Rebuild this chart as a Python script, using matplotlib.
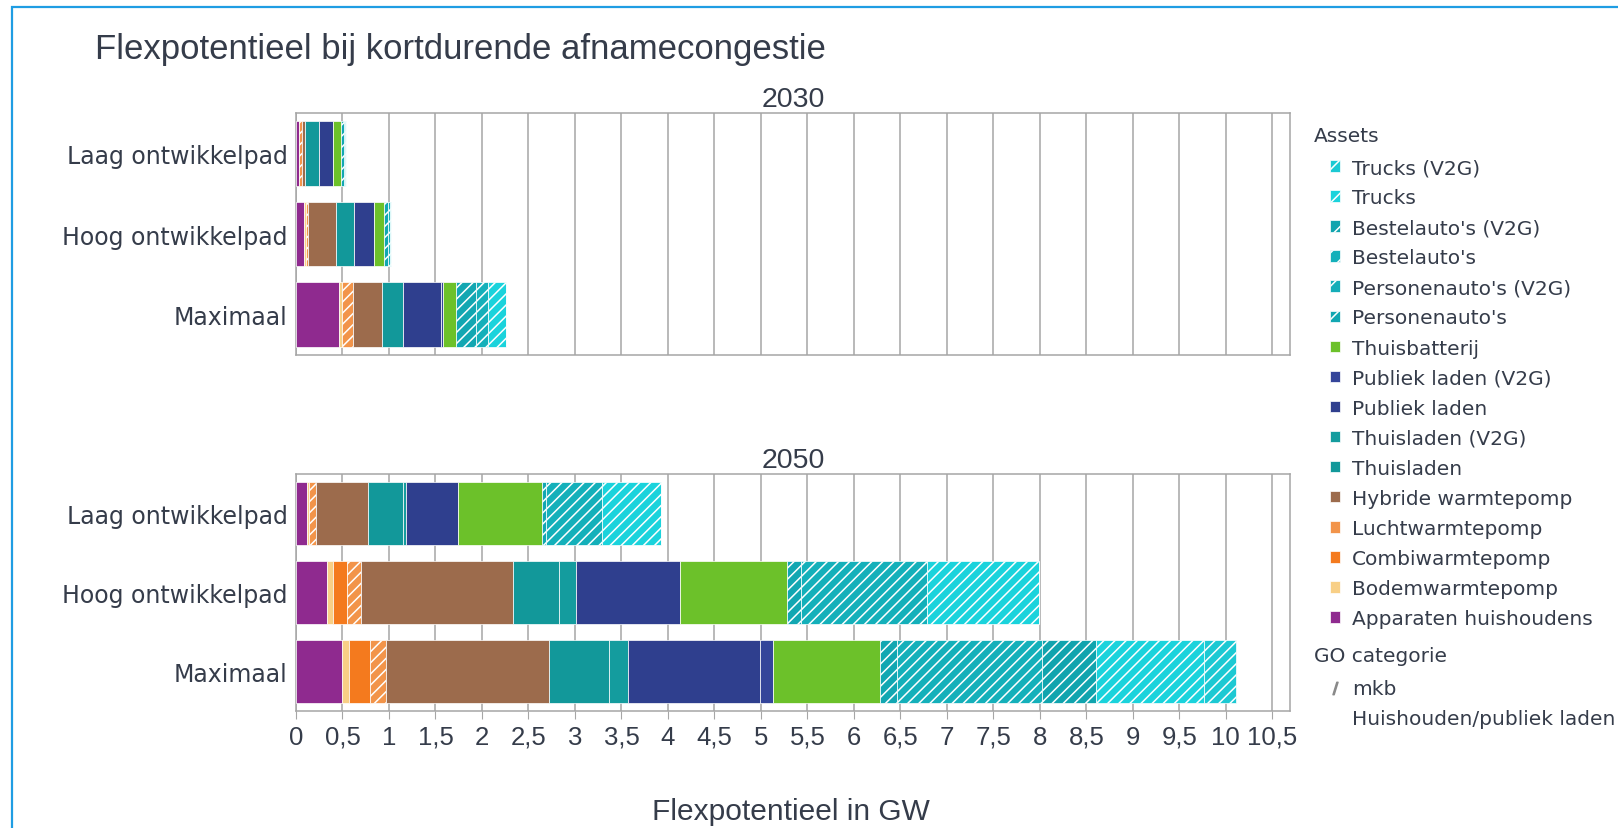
import matplotlib
matplotlib.use("Agg")
import matplotlib.pyplot as plt
from matplotlib.patches import Patch, Rectangle
from matplotlib.lines import Line2D
import numpy as np

# scenario rows (top to bottom)
scenarios = ["Laag ontwikkelpad", "Hoog ontwikkelpad", "Maximaal"]
years = ["2030", "2050"]

# stack order, left to right
assets = ["Apparaten huishoudens", "Bodemwarmtepomp", "Combiwarmtepomp",
          "Luchtwarmtepomp", "Hybride warmtepomp", "Thuisladen",
          "Thuisladen (V2G)", "Publiek laden", "Publiek laden (V2G)",
          "Thuisbatterij", "Personenauto's", "Personenauto's (V2G)",
          "Bestelauto's", "Bestelauto's (V2G)", "Trucks", "Trucks (V2G)"]
asset_colors = ["#8f2a8f", "#f8cf86", "#f47a1e", "#f2944a", "#9c6b4c",
                "#12989a", "#149c9e", "#2f3f8e", "#34459a", "#6cc12a",
                "#12a7b2", "#15adb8", "#14b0ba", "#10a4ae", "#1ad3dc",
                "#1cc9d3"]
# GO categorie: True = mkb (hatched), False = huishouden/publiek laden
asset_mkb = [False, False, False, True, False, False, False, False, False,
             False, True, True, True, True, True, True]

# GW per asset, columns = Laag, Hoog, Maximaal
gw_2030 = [
    [0.03, 0.086, 0.46],
    [0.00, 0.02, 0.04],
    [0.00, 0.00, 0.00],
    [0.03, 0.025, 0.115],
    [0.035, 0.30, 0.31],
    [0.15, 0.19, 0.225],
    [0.00, 0.00, 0.00],
    [0.15, 0.22, 0.405],
    [0.00, 0.00, 0.03],
    [0.09, 0.11, 0.135],
    [0.03, 0.04, 0.22],
    [0.00, 0.00, 0.00],
    [0.01, 0.02, 0.12],
    [0.00, 0.00, 0.00],
    [0.01, 0.015, 0.20],
    [0.00, 0.00, 0.00],
]
gw_2050 = [
    [0.115, 0.33, 0.50],
    [0.03, 0.065, 0.07],
    [0.00, 0.15, 0.23],
    [0.07, 0.155, 0.17],
    [0.56, 1.63, 1.75],
    [0.38, 0.50, 0.65],
    [0.03, 0.18, 0.20],
    [0.555, 1.12, 1.415],
    [0.00, 0.00, 0.15],
    [0.91, 1.15, 1.15],
    [0.035, 0.15, 0.18],
    [0.00, 0.00, 0.00],
    [0.61, 1.36, 1.56],
    [0.00, 0.00, 0.58],
    [0.63, 1.20, 1.16],
    [0.00, 0.00, 0.34],
]

xticks = np.arange(0, 11, 0.5)
xticklabels = [("%g" % t).replace(".", ",") for t in xticks]

TXT = "#353c4a"
GRID = "#a6a6a6"
NARROW = ["Liberation Sans", "DejaVu Sans"]
WIDE = ["DejaVu Sans"]

plt.rcParams["hatch.linewidth"] = 1.1

fig = plt.figure(figsize=(16.18, 8.29), dpi=100)
W, H = 1618.0, 829.0
ax_top = fig.add_axes([296 / W, 1 - 356 / H, 994 / W, 242 / H])
ax_bot = fig.add_axes([296 / W, 1 - 712 / H, 994 / W, 237 / H])

y = np.arange(len(scenarios))
for ax, data, year in [(ax_top, gw_2030, "2030"), (ax_bot, gw_2050, "2050")]:
    left = np.zeros(len(scenarios))
    for i, name in enumerate(assets):
        vals = np.array(data[i])
        ax.barh(y, vals, left=left, height=0.8, color=asset_colors[i],
                edgecolor="white", linewidth=0.5,
                hatch="///" if asset_mkb[i] else None, zorder=3)
        left += vals
    ax.set_ylim(2.5, -0.5)
    ax.set_xlim(0, 10.69)
    ax.set_xticks(xticks)
    ax.grid(axis="x", color=GRID, linewidth=1.1, zorder=0)
    ax.set_yticks(y)
    ax.set_yticklabels(scenarios, fontsize=17, color=TXT, family=WIDE)
    ax.tick_params(axis="y", length=0, pad=6)
    for s in ax.spines.values():
        s.set_color(GRID)
        s.set_linewidth(1.1)
    ax.set_title(year, fontsize=20.5, color=TXT, family=NARROW, pad=5)

ax_top.tick_params(axis="x", length=0, labelbottom=False)
ax_bot.set_xticklabels(xticklabels, fontsize=18.5, color=TXT, family=NARROW)
ax_bot.tick_params(axis="x", length=6, color=GRID, pad=4)

fig.text(791 / W, 1 - 812 / H, "Flexpotentieel in GW", ha="center",
         va="center", fontsize=21.5, color=TXT, family=NARROW)
fig.text(95 / W, 1 - 50 / H, "Flexpotentieel bij kortdurende afnamecongestie",
         ha="left", va="center", fontsize=25, color=TXT, family=NARROW)

# legend: Assets (reverse stack order), then GO categorie
fig.text(1314 / W, 1 - 137 / H, "Assets", ha="left", va="center",
         fontsize=14.5, color=TXT, family=WIDE)
handles = [Patch(facecolor=asset_colors[i], edgecolor="white", linewidth=0.5,
                 hatch="//" if asset_mkb[i] and i >= 10 else None)
           for i in range(len(assets))][::-1]
leg1 = fig.legend(handles, assets[::-1], loc="upper left",
                  bbox_to_anchor=(1322 / W, 1 - 151 / H), frameon=False,
                  handlelength=0.5, handleheight=0.5,
                  handletextpad=0.6, labelspacing=0.55, borderaxespad=0,
                  prop={"family": WIDE, "size": 14.5})
for t in leg1.get_texts():
    t.set_color(TXT)

fig.text(1314 / W, 1 - 657 / H, "GO categorie", ha="left", va="center",
         fontsize=14.5, color=TXT, family=WIDE)
go_handles = [Line2D([], [], linestyle="None", marker=r"$/$", markersize=9,
                     color="#8a8a8a"),
              Patch(facecolor="white", edgecolor="white", linewidth=0)]
leg2 = fig.legend(go_handles, ["mkb", "Huishouden/publiek laden"], loc="upper left",
                  bbox_to_anchor=(1322 / W, 1 - 672 / H), frameon=False,
                  handlelength=0.5, handleheight=0.5, handletextpad=0.6,
                  labelspacing=0.55, borderaxespad=0,
                  prop={"family": WIDE, "size": 14.5})
for t in leg2.get_texts():
    t.set_color(TXT)

# light blue frame of the original screenshot
fig.patches.append(Rectangle((12 / W, -0.1), 1.2, 1.1 - 8 / H,
                             transform=fig.transFigure, fill=False,
                             edgecolor="#1f9de3", linewidth=1.6))

fig.savefig("out.png", dpi=100)
